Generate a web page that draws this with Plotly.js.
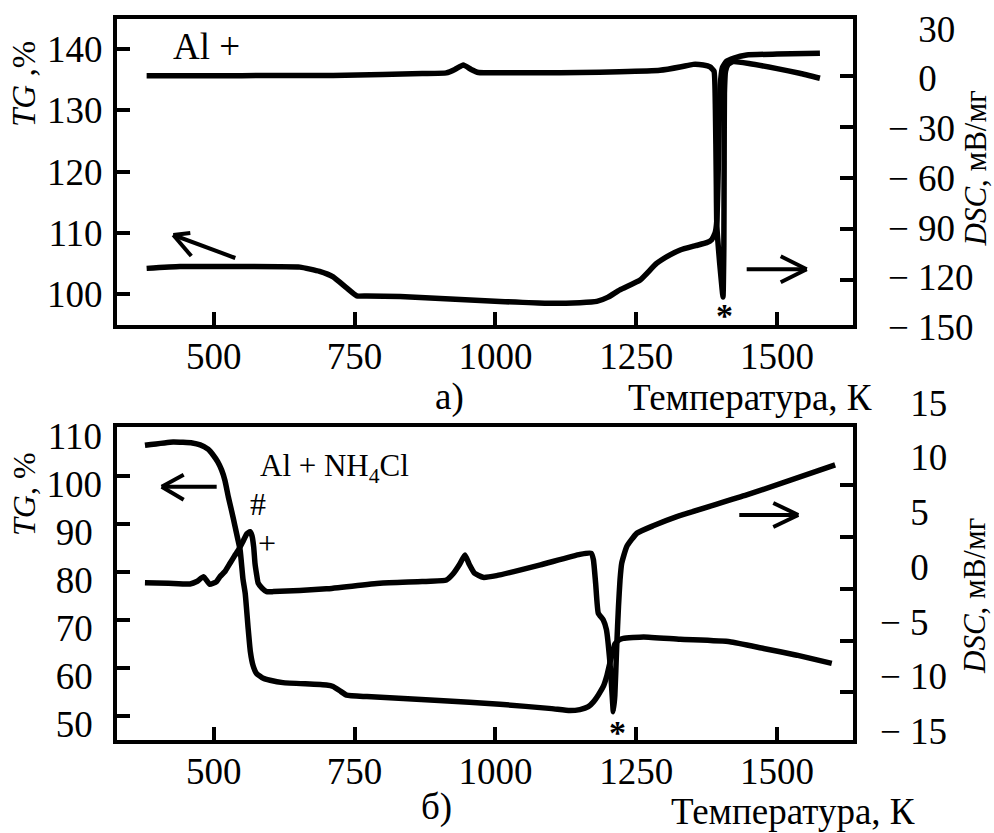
<!DOCTYPE html>
<html>
<head>
<meta charset="utf-8">
<script src="https://cdn.plot.ly/plotly-3.0.1.min.js"></script>
<style>
  html, body { margin: 0; padding: 0; background: #fff; }
  #chart { width: 994px; height: 833px; }
</style>
</head>
<body>
<div id="chart"></div>
<script>
// ---- Panel а): Al (+) ----
const tempA_dsc = [381, 500, 600, 712, 800, 870, 913, 928, 943, 957, 970, 1008, 1080, 1150, 1220, 1292, 1330, 1351, 1369, 1381, 1388, 1390.5, 1392, 1393, 1398, 1402.5, 1404, 1405.5, 1406, 1406.5, 1408.5, 1413, 1422, 1450, 1500, 1540, 1576];
const dscA = [0.3, 0.3, 0.4, 0.5, 1.0, 1.6, 2.0, 4.0, 6.7, 4.0, 2.2, 2.0, 2.0, 2.2, 2.6, 3.5, 5.6, 7.0, 6.6, 5.5, 3.0, -20, -60, -88, -110, -126, -130.2, -100, -50, -10, 3, 7, 8.6, 7.5, 4.5, 1.8, -1.2];
const tempA_tg = [381, 440, 550, 653, 688, 712, 736, 754, 772, 831, 920, 1008, 1091, 1150, 1180, 1200, 1221, 1257, 1286, 1310, 1328, 1355, 1375, 1384, 1390, 1393, 1395, 1397, 1399, 1403, 1410, 1422, 1446, 1500, 1576];
const tgA = [104.2, 104.5, 104.5, 104.4, 103.7, 102.8, 101.0, 99.7, 99.7, 99.6, 99.2, 98.8, 98.5, 98.6, 98.8, 99.5, 100.7, 102.3, 105.0, 106.4, 107.2, 107.9, 108.4, 108.9, 110.0, 112.0, 118.0, 127.0, 134.0, 137.0, 138.0, 138.5, 139.05, 139.2, 139.35];

// ---- Panel б): Al + NH4Cl ----
const tempB_dsc = [378, 420, 458, 470, 482, 493, 505, 511, 520, 529, 537, 544, 552, 559, 564.4, 568, 571, 573.3, 576, 579, 586, 594, 606, 700, 795, 870, 913, 925, 936, 946, 954, 963, 978, 1002, 1080, 1150, 1170, 1174, 1178, 1182.6, 1191.5, 1197, 1203.4, 1207, 1209.3, 1212, 1215.3, 1218.5, 1221.2, 1224.2, 1233, 1251, 1280, 1322, 1446, 1603];
const dscB = [-1.40, -1.45, -1.51, -1.3, -0.86, -1.55, -1.3, -0.86, -0.4, 0.34, 1.0, 1.53, 2.3, 3.0, 3.17, 2.8, 1.8, 0.34, -0.6, -1.45, -1.9, -2.2, -2.2, -1.95, -1.45, -1.3, -1.16, -0.6, 0.2, 1.08, 0.2, -0.56, -0.92, -0.77, 0.2, 1.14, 1.24, 0.64, -1.5, -4.14, -4.74, -5.6, -8.62, -11.3, -12.96, -11.5, -7.13, -3.5, -1.16, 0.34, 1.83, 3.03, 3.7, 4.52, 6.46, 9.15];
const tempB_tg = [378, 428, 462, 476, 490, 499, 507, 514, 520, 526, 532, 538, 543, 547, 552, 556, 561, 565, 570, 576, 588, 600, 623, 700, 712, 724, 736, 772, 900, 1008, 1100, 1132, 1150, 1165, 1174, 1183, 1191.5, 1198, 1203, 1208, 1212, 1220, 1227, 1263, 1328, 1416, 1476, 1535, 1597];
const tgB = [106.3, 107.0, 106.8, 106.4, 105.5, 104.3, 102.9, 101.2, 99.0, 95.6, 92.6, 89.4, 86.7, 84.5, 78.5, 75.5, 68.5, 63.5, 60.5, 58.9, 57.9, 57.5, 57.0, 56.5, 56.2, 55.3, 54.4, 54.1, 53.3, 52.5, 51.6, 51.2, 51.4, 52.0, 53.0, 54.5, 56.2, 58.5, 61.0, 63.3, 65.0, 65.9, 66.2, 66.5, 66.0, 65.5, 64.1, 62.7, 61.0];

// ---- Axis ticks and labels ----
const tempTicks = [500, 750, 1000, 1250, 1500];
const tgTicksA = [100, 110, 120, 130, 140];
const dscTicksA = [0, -30, -60, -90, -120];
const dscLabelsA = [30, 0, -30, -60, -90, -120, -150];
const tgTicksB = [50, 60, 70, 80, 90, 100];
const tgLabelsB = [50, 60, 70, 80, 90, 100, 110];
const dscTicksB = [7.5, 2.5, -2.5, -7.5, -12.5];
const dscLabelsB = [15, 10, 5, 0, -5, -10, -15];

const W = 994, H = 833;
const M = { l: 117, r: 141, t: 19, b: 93 };
const plotW = W - M.l - M.r, plotH = H - M.t - M.b;
const px = v => (v - M.l) / plotW;          // page x -> paper fraction
const py = v => (H - M.b - v) / plotH;      // page y -> paper fraction

const SERIF = 'Liberation Serif, Times New Roman, serif';
const INK = '#000';
const font = size => ({ family: SERIF, size, color: INK });

// right-hand labels: the number sits in a fixed column, the minus hangs in front
const signed = v => v < 0
  ? '\u2212\u00a0' + Math.abs(v)
  : '<span style="color:#fff">\u2212\u00a0</span>' + v;
// left labels of panel б) are centred in their column
const centred = v => (v < 100 ? v + '\u00a0' : String(v));

const line = { color: INK, width: 5.5, shape: 'spline', smoothing: 0.4 };

const traces = [
  { x: tempA_tg,  y: tgA,  xaxis: 'x',  yaxis: 'y',  mode: 'lines', line },
  { x: tempA_dsc, y: dscA, xaxis: 'x',  yaxis: 'y2', mode: 'lines', line },
  { x: tempB_tg,  y: tgB,  xaxis: 'x2', yaxis: 'y4', mode: 'lines', line },
  { x: tempB_dsc, y: dscB, xaxis: 'x2', yaxis: 'y6', mode: 'lines', line },
  // holders for the label-only and tick-only axes
  { x: [null], y: [null], xaxis: 'x',  yaxis: 'y3', mode: 'lines' },
  { x: [null], y: [null], xaxis: 'x2', yaxis: 'y5', mode: 'lines' },
  { x: [null], y: [null], xaxis: 'x2', yaxis: 'y7', mode: 'lines' },
  { x: [null], y: [null], xaxis: 'x2', yaxis: 'y8', mode: 'lines' }
].map(t => Object.assign({ showlegend: false, hoverinfo: 'skip' }, t));

const tickFont = font(37);
const frame = { showline: true, linewidth: 4, linecolor: INK, mirror: true, showgrid: false, zeroline: false };
const inTicks = { ticks: 'inside', ticklen: 13, tickwidth: 4, tickcolor: INK };
const bare = { showline: false, showgrid: false, zeroline: false, ticks: '' };

const topDom = [py(325), 1];
const botDom = [0, py(426.7)];

const xCommon = Object.assign({}, frame, inTicks, {
  domain: [0, 1], range: [328.4, 1634.7], tickvals: tempTicks,
  tickfont: tickFont, ticklabelstandoff: -4, fixedrange: true
});

const layout = {
  width: W, height: H, margin: M,
  paper_bgcolor: '#fff', plot_bgcolor: 'rgba(0,0,0,0)',
  showlegend: false,
  xaxis:  Object.assign({}, xCommon, { anchor: 'y' }),
  xaxis2: Object.assign({}, xCommon, { anchor: 'y4' }),

  // а) TG, left
  yaxis: Object.assign({}, frame, inTicks, {
    domain: topDom, anchor: 'x', range: [94.95, 144.93],
    tickvals: tgTicksA, tickfont: tickFont, ticklabelstandoff: 3
  }),
  // а) DSC, right: scale with tick marks
  yaxis2: Object.assign({}, bare, inTicks, {
    overlaying: 'y', side: 'right', anchor: 'x', range: [-146.76, 33.77],
    tickvals: dscTicksA, showticklabels: false
  }),
  // а) DSC, right: numbers
  yaxis3: Object.assign({}, bare, {
    anchor: 'free', position: 1, side: 'right', domain: [py(345), 1],
    range: [-160.77, 35.78], tickvals: dscLabelsA,
    ticktext: dscLabelsA.map(signed), tickfont: tickFont, ticklabelstandoff: 34
  }),

  // б) TG, left: scale with tick marks
  yaxis4: Object.assign({}, frame, inTicks, {
    domain: botDom, anchor: 'x2', range: [45.08, 110.17],
    tickvals: tgTicksB, showticklabels: false
  }),
  // б) TG, left: numbers
  yaxis5: Object.assign({}, bare, {
    anchor: 'free', position: 0, side: 'left', domain: [0, py(420)],
    range: [46.67, 113.37], tickvals: tgLabelsB,
    ticktext: tgLabelsB.map(centred), tickfont: tickFont, ticklabelstandoff: 15
  }),
  // б) DSC, right: data scale
  yaxis6: Object.assign({}, bare, {
    overlaying: 'y4', side: 'right', anchor: 'x2', range: [-15.50, 12.58],
    showticklabels: false
  }),
  // б) DSC, right: tick marks
  yaxis7: Object.assign({}, bare, inTicks, {
    overlaying: 'y4', side: 'right', anchor: 'x2', range: [-17.09, 13.12],
    tickvals: dscTicksB, showticklabels: false
  }),
  // б) DSC, right: numbers
  yaxis8: Object.assign({}, bare, {
    anchor: 'free', position: 1, side: 'right', domain: [0, py(380)],
    range: [-15.83, 17.09], tickvals: dscLabelsB,
    ticktext: dscLabelsB.map(signed), tickfont: tickFont, ticklabelstandoff: 26
  }),

  annotations: [],
  shapes: []
};

const ann = layout.annotations;
const text = (o) => ann.push(Object.assign({
  showarrow: false, xanchor: 'center', yanchor: 'middle', font: font(37)
}, o));

// axis titles
const paper = { xref: 'paper', yref: 'paper' };
text(Object.assign({ x: px(24),  y: py(84),    textangle: -90, text: '<i>TG</i> ,%',       font: font(33) }, paper));
text(Object.assign({ x: px(24),  y: py(494),   textangle: -90, text: '<i>TG</i>, %',       font: font(32) }, paper));
text(Object.assign({ x: px(975), y: py(168.5), textangle: -90, text: '<i>DSC</i>, мВ/мг', font: font(31) }, paper));
text(Object.assign({ x: px(974), y: py(596),   textangle: -90, text: '<i>DSC</i>, мВ/мг', font: font(31) }, paper));
text(Object.assign({ x: px(750), y: py(397), text: 'Температура, К' }, paper));
text(Object.assign({ x: px(793), y: py(811), text: 'Температура, К' }, paper));
text(Object.assign({ x: px(449), y: py(397), text: 'а)' }, paper));
text(Object.assign({ x: px(436), y: py(807), text: 'б)' }, paper));

// sample labels and marks inside the panels
text({ xref: 'x', yref: 'y', x: 488, y: 140.5, text: 'Al +' });
text({ xref: 'x2', yref: 'y4', x: 715, y: 101.6, text: 'Al + NH<sub>4</sub>Cl', font: font(31) });
text({ xref: 'x2', yref: 'y4', x: 579, y: 94.2, text: '#', font: font(32) });
text({ xref: 'x2', yref: 'y4', x: 595.5, y: 86.1, text: '+', font: font(32) });
text({ xref: 'x', yref: 'y', x: 1407.5, y: 96.5, text: '<b>*</b>', font: font(34) });
text({ xref: 'x2', yref: 'y4', x: 1216.7, y: 46.6, text: '<b>*</b>', font: font(34) });

// arrows telling which axis a curve belongs to: the tip is placed on the
// panel's scale, shaft and barbs are given in pixels back from the tip
function arrow(xref, yref, tipX, tipY, tail, barbA, barbB) {
  const base = { type: 'line', xref, yref, xsizemode: 'pixel', ysizemode: 'pixel',
                 xanchor: tipX, yanchor: tipY, x0: 0, y0: 0,
                 line: { color: INK, width: 4 } };
  [tail, barbA, barbB].forEach(([dx, dy]) =>
    layout.shapes.push(Object.assign({}, base, { x1: dx, y1: dy })));
}
arrow('x',  'y',  428.3,  109.65, [62, -23], [17, 2],  [18, -21]);
arrow('x',  'y2', 1552.5, -113.9, [-60, 0],  [-26, 13], [-26, -13]);
arrow('x2', 'y4', 407.7,  97.7,   [55, 0],   [22, 12], [22, -13]);
arrow('x2', 'y6', 1537.6, 4.67,   [-59, 0],  [-25, 12], [-25, -12]);

Plotly.newPlot('chart', traces, layout, { staticPlot: true, displayModeBar: false });
</script>
</body>
</html>
